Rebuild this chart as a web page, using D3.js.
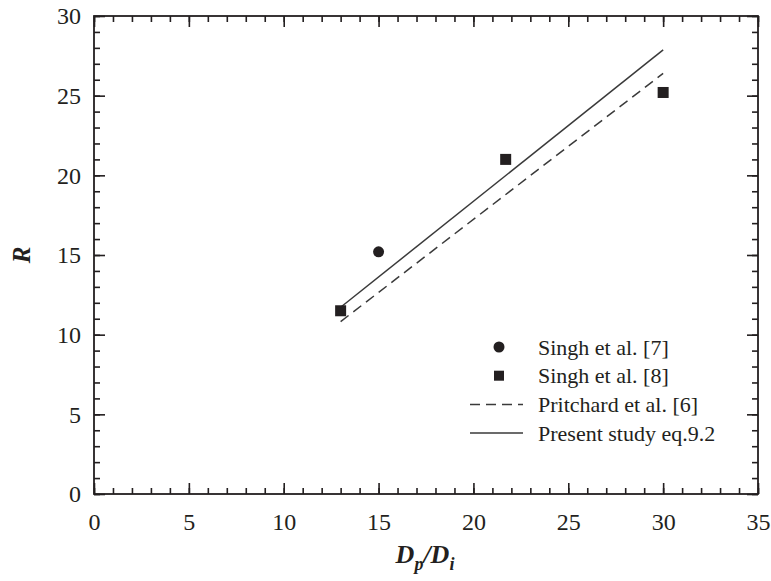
<!DOCTYPE html>
<html>
<head>
<meta charset="utf-8">
<script src="https://cdn.jsdelivr.net/npm/d3@7"></script>
<style>
  body { margin: 0; background: #fff; }
  text { font-family: "Liberation Serif", "Times New Roman", "DejaVu Serif", serif; fill: #231f20; }
</style>
</head>
<body>
<svg id="chart" width="771" height="581"></svg>
<script>
// data
const singh7 = [{x: 15, y: 15.2}];
const singh8 = [{x: 13, y: 11.5}, {x: 21.7, y: 21.0}, {x: 30, y: 25.2}];
const pritchard = [{x: 13, y: 10.82}, {x: 30, y: 26.4}];
const present = [{x: 13, y: 11.72}, {x: 30, y: 27.87}];
const xTicks = [0, 5, 10, 15, 20, 25, 30, 35];
const yTicks = [0, 5, 10, 15, 20, 25, 30];
const legendLabels = ['Singh et al. [7]', 'Singh et al. [8]', 'Pritchard et al. [6]', 'Present study eq.9.2'];

const svg = d3.select('#chart');
const margin = {left: 94, top: 16, right: 13, bottom: 87};
const width = 771 - margin.left - margin.right;
const height = 581 - margin.top - margin.bottom;
const ink = '#231f20';
const serif = '"Liberation Serif", "Times New Roman", serif';

const x = d3.scaleLinear().domain([0, 35]).range([0, width]);
const y = d3.scaleLinear().domain([0, 30]).range([height, 0]);

const g = svg.append('g').attr('transform', 'translate(' + margin.left + ',' + margin.top + ')');

// minor + major inward ticks on all four sides
function tickAxis(axisFn, scale, values, size, pos) {
    const a = g.append('g').attr('transform', pos)
        .call(axisFn(scale).tickValues(values).tickSize(size).tickFormat(''));
    a.select('.domain').remove();
    a.selectAll('line').attr('stroke', ink).attr('stroke-width', 1.6);
    return a;
}
const xMinor = d3.range(0, 36, 1);
const yMinor = d3.range(0, 31, 1);
tickAxis(d3.axisTop, x, xMinor, 6, 'translate(0,' + height + ')');
tickAxis(d3.axisTop, x, xTicks, 11, 'translate(0,' + height + ')');
tickAxis(d3.axisBottom, x, xMinor, 6, 'translate(0,0)');
tickAxis(d3.axisBottom, x, xTicks, 11, 'translate(0,0)');
tickAxis(d3.axisRight, y, yMinor, 6, 'translate(0,0)');
tickAxis(d3.axisRight, y, yTicks, 11, 'translate(0,0)');
tickAxis(d3.axisLeft, y, yMinor, 6, 'translate(' + width + ',0)');
tickAxis(d3.axisLeft, y, yTicks, 11, 'translate(' + width + ',0)');

// frame
g.append('rect').attr('width', width).attr('height', height)
    .attr('fill', 'none').attr('stroke', ink).attr('stroke-width', 1.8);

// tick labels
const xLab = g.append('g').attr('transform', 'translate(0,' + height + ')')
    .call(d3.axisBottom(x).tickValues(xTicks).tickSize(0).tickPadding(19));
xLab.select('.domain').remove();
xLab.selectAll('text').style('font-size', '24px').style('font-family', serif).attr('fill', ink);

const yLab = g.append('g')
    .call(d3.axisLeft(y).tickValues(yTicks).tickSize(0).tickPadding(13));
yLab.select('.domain').remove();
yLab.selectAll('text').style('font-size', '24px').style('font-family', serif).attr('fill', ink);

// axis titles
svg.append('text')
    .attr('transform', 'translate(30,255) rotate(-90)')
    .attr('text-anchor', 'middle')
    .style('font-size', '25px').style('font-weight', 'bold').style('font-style', 'italic')
    .text('R');

const xt = svg.append('text')
    .attr('x', 425).attr('y', 563)
    .attr('text-anchor', 'middle')
    .style('font-size', '26px').style('font-weight', 'bold').style('font-style', 'italic');
xt.append('tspan').text('D');
xt.append('tspan').attr('dy', 7).style('font-size', '18px').text('p');
xt.append('tspan').attr('dy', -7).text('/D');
xt.append('tspan').attr('dy', 7).style('font-size', '18px').text('i');

// lines
const line = d3.line().x(d => x(d.x)).y(d => y(d.y));
g.append('path').datum(pritchard).attr('d', line)
    .attr('fill', 'none').attr('stroke', '#3a3a3a').attr('stroke-width', 1.5)
    .attr('stroke-dasharray', '10,6');
g.append('path').datum(present).attr('d', line)
    .attr('fill', 'none').attr('stroke', '#3a3a3a').attr('stroke-width', 1.5);

// points
g.selectAll('.c7').data(singh7).enter().append('circle')
    .attr('cx', d => x(d.x)).attr('cy', d => y(d.y)).attr('r', 5.5).attr('fill', ink);
g.selectAll('.s8').data(singh8).enter().append('rect')
    .attr('x', d => x(d.x) - 5.5).attr('y', d => y(d.y) - 5.5)
    .attr('width', 11).attr('height', 11).attr('fill', ink);

// legend
const leg = svg.append('g').attr('transform', 'translate(470,347)');
const rowH = 28.7;
legendLabels.forEach((t, i) => {
    const row = leg.append('g').attr('transform', 'translate(0,' + (i * rowH) + ')');
    if (i === 0) {
        row.append('circle').attr('cx', 29).attr('cy', 0).attr('r', 5.5).attr('fill', ink);
    } else if (i === 1) {
        row.append('rect').attr('x', 24).attr('y', -5).attr('width', 10).attr('height', 10).attr('fill', ink);
    } else {
        row.append('line').attr('x1', 0).attr('x2', 53).attr('y1', 0).attr('y2', 0)
            .attr('stroke', '#3a3a3a').attr('stroke-width', 1.5)
            .attr('stroke-dasharray', i === 2 ? '10,6' : null);
    }
    row.append('text').attr('x', 68).attr('y', 0).attr('dy', '0.35em')
        .style('font-size', '22px').style('font-family', serif).text(t);
});
</script>
</body>
</html>
